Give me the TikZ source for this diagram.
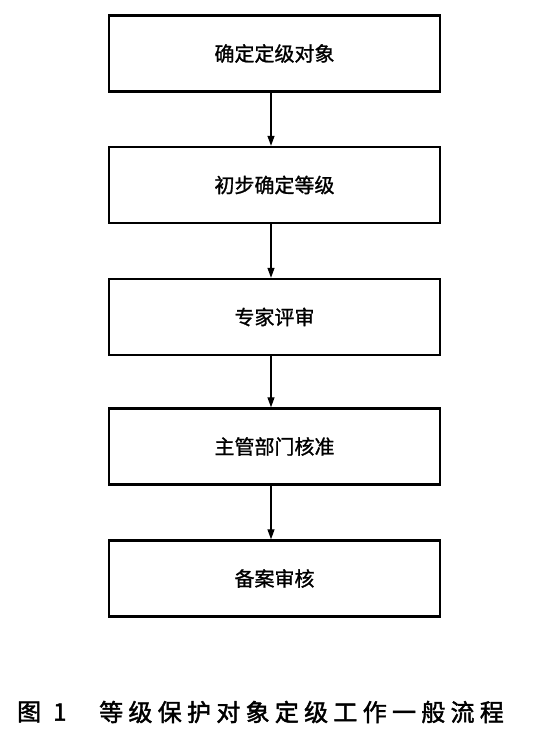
\documentclass[tikz,border=0pt]{standalone}
\usepackage{fontspec}
\newfontfamily\cjk[FakeBold=1.2]{Noto Sans CJK SC}
\newfontfamily\cjkfig[FakeBold=1.8]{Noto Sans CJK SC}
\newfontfamily\cjkcap[LetterSpace=22,FakeBold=1.8]{Noto Sans CJK SC}
\usetikzlibrary{arrows.meta}
\begin{document}
\begin{tikzpicture}[x=1pt,y=1pt,
  stepbox/.style={draw=black,line width=2.4pt,minimum width=331pt,minimum height=76pt,inner sep=0pt,font=\cjk\fontsize{20}{24}\selectfont},
  flow/.style={line width=1.3pt,-{Triangle[length=10pt,width=7pt]}}]
\useasboundingbox (0,0) rectangle (549,744);
\node[stepbox] (b1) at (274.5,690.5) {确定定级对象};
\node[stepbox] (b2) at (274.5,559) {初步确定等级};
\node[stepbox] (b3) at (274.5,427) {专家评审};
\node[stepbox] (b4) at (274.5,297.5) {主管部门核准};
\node[stepbox] (b5) at (274.5,165.5) {备案审核};
\coordinate (ax) at (271,0);
\draw[flow] (b1.south -| ax) -- (b2.north -| ax);
\draw[flow] (b2.south -| ax) -- (b3.north -| ax);
\draw[flow] (b3.south -| ax) -- (b4.north -| ax);
\draw[flow] (b4.south -| ax) -- (b5.north -| ax);
\node[anchor=west,inner sep=0pt,font=\cjkfig\fontsize{24}{28}\selectfont] (fig) at (17,32) {图\hspace{12pt}1};
\node[anchor=west,inner sep=0pt,font=\cjkcap\fontsize{24}{28}\selectfont] (cap) at (99,32) {等级保护对象定级工作一般流程};
\end{tikzpicture}
\end{document}
